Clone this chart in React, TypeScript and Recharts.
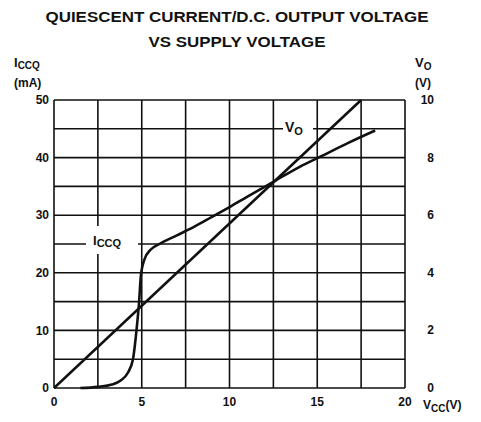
import { LineChart, Line, XAxis, YAxis, CartesianGrid } from "recharts";

// supply voltage grid / ticks
const vccTicks = [0, 2.5, 5, 7.5, 10, 12.5, 15, 17.5, 20];
const iccqTicks = [0, 5, 10, 15, 20, 25, 30, 35, 40, 45, 50];
const voTicks = [0, 2, 4, 6, 8, 10];

// quiescent current curve (mA) vs Vcc (V)
const iccqVcc = [1.5, 2.5, 3.3, 3.8, 4.2, 4.5, 4.7, 4.85, 4.95, 5.15, 5.5, 6, 7, 8, 9, 10, 11, 12.5, 14, 15.2, 16.8, 18.3];
const iccqMa = [0, 0.2, 0.6, 1.3, 2.6, 5, 10, 15, 19.5, 22.3, 24, 25, 26.5, 28, 29.7, 31.4, 33.2, 35.8, 38.4, 40.2, 42.6, 44.7];

// d.c. output voltage (V) vs Vcc (V)
const voVcc = [0, 17.5];
const voVolts = [0, 10];

const iccqData = iccqVcc.map((v, i) => ({ vcc: v, iccq: iccqMa[i] }));
const voData = voVcc.map((v, i) => ({ vcc: v, vo: voVolts[i] }));

const FONT = "'Liberation Sans', Arial, sans-serif";
const tickStyle = { fill: "#111", fontSize: 12, fontWeight: 700, fontFamily: FONT };

const RightTick = ({ x, y, payload }: any) => (
  <text x={x + 27} y={y} textAnchor="end" dominantBaseline="central" {...tickStyle}>
    {payload.value}
  </text>
);

export default function App() {
  return (
    <div style={{ position: "absolute", left: 0, top: 0, width: 481, height: 422, background: "#fff" }}>
      <LineChart
        width={481}
        height={422}
        margin={{ top: 100, right: 26, bottom: 4, left: 4 }}
        style={{ position: "absolute", left: 0, top: 0 }}
      >
        <CartesianGrid yAxisId="left" stroke="#111" strokeWidth={1.6} />
        <XAxis
          dataKey="vcc"
          type="number"
          domain={[0, 20]}
          ticks={vccTicks}
          allowDataOverflow
          height={30}
          tickLine={false}
          axisLine={false}
          tickSize={0}
          tickMargin={9}
          tick={tickStyle}
          tickFormatter={(v: number) => (v % 5 === 0 ? String(v) : "")}
          interval={0}
        />
        <YAxis
          yAxisId="left"
          domain={[0, 50]}
          ticks={iccqTicks}
          width={50}
          tickLine={false}
          axisLine={false}
          tickSize={0}
          tickMargin={5}
          tick={tickStyle}
          tickFormatter={(v: number) => (v % 10 === 0 ? String(v) : "")}
          interval={0}
        />
        <YAxis
          yAxisId="right"
          orientation="right"
          domain={[0, 10]}
          ticks={voTicks}
          width={50}
          tickLine={false}
          axisLine={false}
          tickSize={0}
          tick={RightTick}
          interval={0}
        />
        <Line
          yAxisId="left"
          data={iccqData}
          dataKey="iccq"
          type="monotone"
          stroke="#111"
          strokeWidth={2.6}
          dot={false}
          activeDot={false}
          isAnimationActive={false}
        />
        <Line
          yAxisId="right"
          data={voData}
          dataKey="vo"
          type="linear"
          stroke="#111"
          strokeWidth={2.6}
          dot={false}
          activeDot={false}
          isAnimationActive={false}
        />
      </LineChart>
      <svg
        width={481}
        height={422}
        style={{ position: "absolute", left: 0, top: 0, pointerEvents: "none" }}
        fontFamily={FONT}
        fontWeight={700}
        fill="#111"
      >
        <text x={237} y={22} textAnchor="middle" fontSize={14} textLength={383} lengthAdjust="spacingAndGlyphs">
          QUIESCENT CURRENT/D.C. OUTPUT VOLTAGE
        </text>
        <text x={237} y={47} textAnchor="middle" fontSize={14} textLength={177} lengthAdjust="spacingAndGlyphs">
          VS SUPPLY VOLTAGE
        </text>

        <text x={14} y={67} fontSize={13}>
          I<tspan fontSize={10} dy={2}>CCQ</tspan>
        </text>
        <text x={14} y={87} fontSize={12}>(mA)</text>

        <text x={415} y={67} fontSize={13}>
          V<tspan fontSize={10} dy={3}>O</tspan>
        </text>
        <text x={415} y={87} fontSize={12}>(V)</text>

        <text x={423} y={409} fontSize={12}>
          V<tspan fontSize={10} dy={3}>CC</tspan>
          <tspan dy={-3}>(V)</tspan>
        </text>

        <rect x={86} y={226} width={52} height={28} fill="#fff" />
        <text x={93} y={245} fontSize={13}>
          I<tspan fontSize={11} dy={2}>CCQ</tspan>
        </text>

        <rect x={283} y={117} width={30} height={22} fill="#fff" />
        <text x={285} y={132} fontSize={14}>
          V<tspan fontSize={11} dy={3}>O</tspan>
        </text>
      </svg>
    </div>
  );
}
